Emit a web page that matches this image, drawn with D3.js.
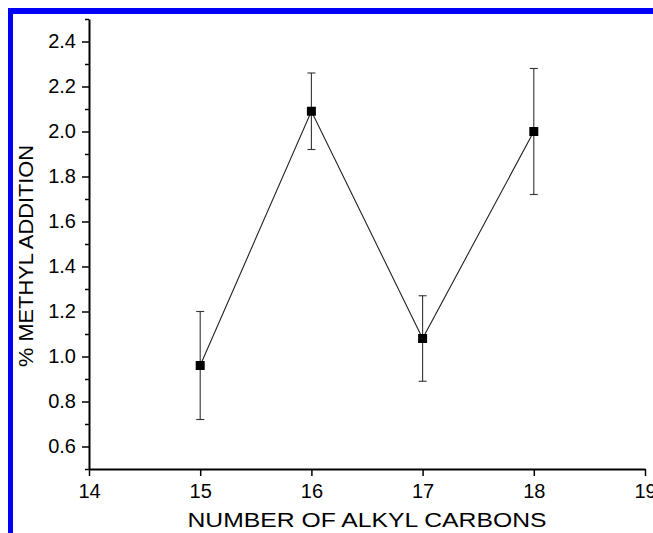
<!DOCTYPE html>
<html lang="en">
<head>
    <meta charset="UTF-8">
    <script src="https://d3js.org/d3.v7.min.js"></script>
    <title>Methyl addition</title>
    <style>
        body { margin: 0; background: #fff; }
        svg { display: block; }
        text { font-family: "Liberation Sans", Arial, Helvetica, sans-serif; fill: #000; }
    </style>
</head>
<body>
    <svg id="chart" width="653" height="533"></svg>
    <script>
        // values
        const carbons = [15, 16, 17, 18];
        const methylAddition = [0.96, 2.09, 1.08, 2.00];
        const errLow = [0.72, 1.92, 0.89, 1.72];
        const errHigh = [1.20, 2.26, 1.27, 2.28];

        const xTicks = [14, 15, 16, 17, 18, 19];
        const yTicks = [0.6, 0.8, 1.0, 1.2, 1.4, 1.6, 1.8, 2.0, 2.2, 2.4];
        const yMinorTicks = [0.5, 0.7, 0.9, 1.1, 1.3, 1.5, 1.7, 1.9, 2.1, 2.3, 2.5];

        const svg = d3.select("#chart");

        // blue frame along left and top edges
        svg.append("rect").attr("x", 8).attr("y", 8).attr("width", 645).attr("height", 6).attr("fill", "#0000f5");
        svg.append("rect").attr("x", 8).attr("y", 8).attr("width", 5).attr("height", 525).attr("fill", "#0000f5");

        const x = d3.scaleLinear().domain([14, 19]).range([89, 645]);
        const y = d3.scaleLinear().domain([0.5, 2.5]).range([469, 19]);

        const data = carbons.map((c, i) => ({
            c: c, v: methylAddition[i], lo: errLow[i], hi: errHigh[i]
        }));

        // minor y ticks
        svg.append("g")
            .attr("transform", "translate(" + x(14) + ",0)")
            .call(d3.axisLeft(y).tickValues(yMinorTicks).tickSize(4).tickSizeOuter(0).tickFormat(""))
            .call(g => g.select(".domain").remove())
            .call(g => g.selectAll("line").attr("stroke-width", 1.5));

        // y axis
        const yAxis = svg.append("g")
            .attr("transform", "translate(" + x(14) + ",0)")
            .call(d3.axisLeft(y).tickValues(yTicks).tickSize(7).tickSizeOuter(0).tickPadding(6).tickFormat(d3.format(".1f")));
        yAxis.select(".domain").attr("stroke-width", 2);
        yAxis.selectAll("line").attr("stroke-width", 1.5);
        yAxis.selectAll("text").style("font-size", "20px").attr("fill", "#000");

        // x axis
        const xAxis = svg.append("g")
            .attr("transform", "translate(0," + y(0.5) + ")")
            .call(d3.axisBottom(x).tickValues(xTicks).tickSize(7).tickSizeOuter(0).tickPadding(8).tickFormat(d3.format("d")));
        xAxis.select(".domain").attr("stroke-width", 2);
        xAxis.selectAll("line").attr("stroke-width", 1.5);
        xAxis.selectAll("text").style("font-size", "20px").attr("fill", "#000");

        // connecting line
        const line = d3.line().x(d => x(d.c)).y(d => y(d.v));
        svg.append("path")
            .datum(data)
            .attr("d", line)
            .attr("fill", "none")
            .attr("stroke", "#222")
            .attr("stroke-width", 1.1);

        // error bars
        const bars = svg.append("g").attr("stroke", "#333").attr("stroke-width", 1.1);
        bars.selectAll("line.err")
            .data(data)
            .enter().append("line")
            .attr("class", "err")
            .attr("x1", d => x(d.c)).attr("x2", d => x(d.c))
            .attr("y1", d => y(d.lo)).attr("y2", d => y(d.hi));
        bars.selectAll("line.capHi")
            .data(data)
            .enter().append("line")
            .attr("class", "capHi")
            .attr("x1", d => x(d.c) - 4).attr("x2", d => x(d.c) + 4)
            .attr("y1", d => y(d.hi)).attr("y2", d => y(d.hi));
        bars.selectAll("line.capLo")
            .data(data)
            .enter().append("line")
            .attr("class", "capLo")
            .attr("x1", d => x(d.c) - 4).attr("x2", d => x(d.c) + 4)
            .attr("y1", d => y(d.lo)).attr("y2", d => y(d.lo));

        // square markers
        svg.append("g").selectAll("rect")
            .data(data)
            .enter().append("rect")
            .attr("x", d => x(d.c) - 4.5)
            .attr("y", d => y(d.v) - 4.5)
            .attr("width", 9)
            .attr("height", 9)
            .attr("fill", "#000");

        // axis titles
        svg.append("text")
            .attr("x", (x(14) + x(19)) / 2)
            .attr("y", 527)
            .attr("text-anchor", "middle")
            .attr("textLength", 359)
            .attr("lengthAdjust", "spacingAndGlyphs")
            .style("font-size", "21px")
            .text("NUMBER OF ALKYL CARBONS");

        svg.append("text")
            .attr("transform", "translate(33,256) rotate(-90)")
            .attr("text-anchor", "middle")
            .attr("textLength", 222)
            .attr("lengthAdjust", "spacingAndGlyphs")
            .style("font-size", "21px")
            .text("% METHYL ADDITION");
    </script>
</body>
</html>
